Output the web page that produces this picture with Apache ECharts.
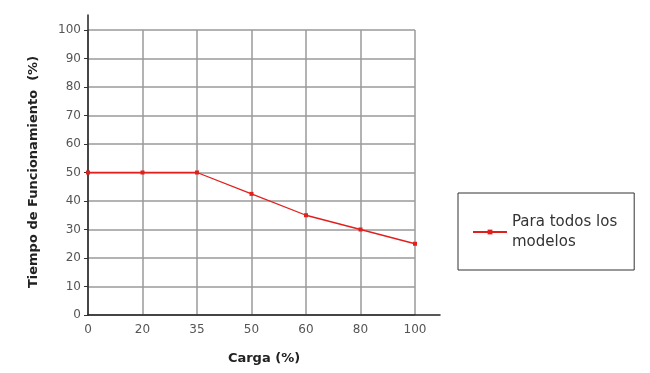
<!DOCTYPE html>
<html><head><meta charset="utf-8">
<script src="https://cdn.jsdelivr.net/npm/echarts@6/dist/echarts.min.js"></script>
<style>html,body{margin:0;padding:0;background:#fff}#c{width:650px;height:373px}</style>
</head><body><div id="c"></div>
<script>
const categories = ['0','20','35','50','60','80','100'];
const values = [50, 50, 50, 42.5, 35, 30, 25];
const seriesName = 'Para todos los\nmodelos';
const xTitle = 'Carga (%)';
const yTitle = 'Tiempo de Funcionamiento  (%)';

const chart = echarts.init(document.getElementById('c'));
const font = 'DejaVu Sans';
chart.setOption({
  animation: false,
  textStyle: {fontFamily: font},
  grid: [
    {left: 88, top: 30, bottom: 58, right: 235, containLabel: false},
    {left: 88, top: 15, bottom: 58, right: 210, containLabel: false}
  ],
  xAxis: [{
    type: 'category', data: categories, boundaryGap: false, gridIndex: 0,
    axisLine: {show: false},
    axisTick: {show: false},
    axisLabel: {color: '#555', fontSize: 12, fontFamily: font, margin: 9},
    splitLine: {show: true, lineStyle: {color: '#9a9a9a', width: 1.5}}
  }, {
    type: 'value', gridIndex: 1, min: 0, max: 1,
    axisLine: {show: true, lineStyle: {color: '#222', width: 1.5}},
    axisTick: {show: false}, axisLabel: {show: false}, splitLine: {show: false},
    name: xTitle, nameLocation: 'middle', nameGap: 37,
    nameTextStyle: {fontWeight: 'bold', fontSize: 13, color: '#222', fontFamily: font}
  }],
  yAxis: [{
    type: 'value', gridIndex: 0, min: 0, max: 100, interval: 10,
    axisLine: {show: false},
    axisTick: {show: true, length: 4, lineStyle: {color: '#333'}},
    axisLabel: {color: '#555', fontSize: 12, fontFamily: font, margin: 7},
    splitLine: {show: true, lineStyle: {color: '#9a9a9a', width: 1.5}}
  }, {
    type: 'value', gridIndex: 1, min: 0, max: 1,
    axisLine: {show: true, lineStyle: {color: '#222', width: 1.5}},
    axisTick: {show: false}, axisLabel: {show: false}, splitLine: {show: false},
    name: yTitle, nameLocation: 'middle', nameGap: 48, nameRotate: 90,
    nameTextStyle: {fontWeight: 'bold', fontSize: 13, color: '#222', fontFamily: font, padding: [0, 14, 0, 0]}
  }],
  legend: {
    left: 458, top: 193,
    orient: 'vertical',
    borderColor: '#333', borderWidth: 1,
    padding: [19, 17, 18, 14],
    itemWidth: 34, itemHeight: 6, itemGap: 5,
    textStyle: {fontSize: 15, color: '#333', fontFamily: font, lineHeight: 20},
    data: [{name: seriesName}]
  },
  series: [{
    name: seriesName, type: 'line', xAxisIndex: 0, yAxisIndex: 0,
    data: values,
    symbol: 'rect', symbolSize: 4,
    lineStyle: {color: '#e0201c', width: 1.3},
    itemStyle: {color: '#e0201c'}
  }]
});
</script></body></html>
